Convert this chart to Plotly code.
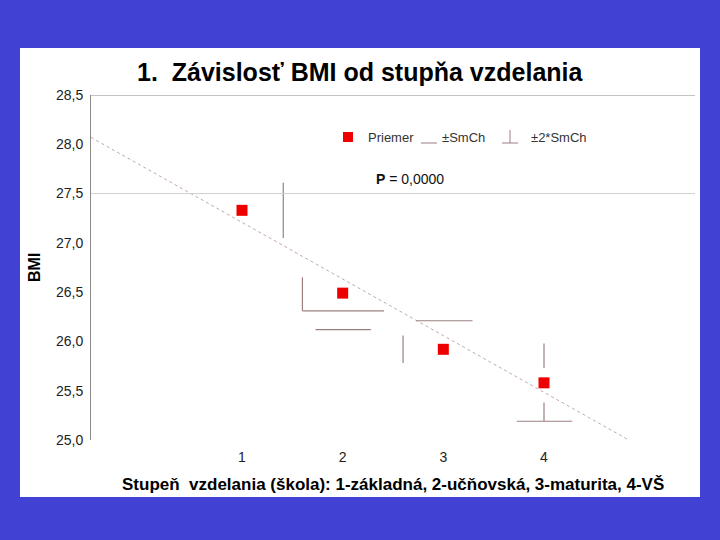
import plotly.graph_objects as go

# ---- data ----
stupen = [1, 2, 3, 4]
bmi_priemer = [27.33, 26.49, 25.92, 25.58]
x_ticks = [1, 2, 3, 4]
x_tick_text = ["1", "2", "3", "4"]
y_ticks = [25.0, 25.5, 26.0, 26.5, 27.0, 27.5, 28.0, 28.5]

# regression line end points
reg_x = [-0.5, 4.86]
reg_y = [28.07, 24.99]

# error-bar segments (as drawn in the original)
err_x0 = [1.41, 1.60, 1.60, 1.73, 2.73, 2.60, 4.00, 4.00, 3.73]
err_x1 = [1.41, 1.60, 2.41, 2.28, 3.29, 2.60, 4.00, 4.00, 4.28]
err_y0 = [27.61, 26.65, 26.31, 26.12, 26.21, 26.06, 25.98, 25.38, 25.19]
err_y1 = [27.05, 26.31, 26.31, 26.12, 26.21, 25.78, 25.73, 25.19, 25.19]

title_text = "1.  Závislosť BMI od stupňa vzdelania"
x_title = "Stupeň  vzdelania (škola): 1-základná, 2-učňovská, 3-maturita, 4-VŠ"
y_title = "BMI"
p_text = "<b>P</b> = 0,0000"

# ---- layout geometry ----
W, H = 720, 540
L, R, T, B = 91, 695, 95, 440
FONT = "Liberation Sans, Arial, sans-serif"


def px(x):
    return (x - L) / (R - L)


def py(y):
    return (B - y) / (B - T)


seg_x, seg_y = [], []
for a, b, c, d in zip(err_x0, err_x1, err_y0, err_y1):
    seg_x += [a, b, None]
    seg_y += [c, d, None]

fig = go.Figure()
fig.add_trace(go.Scatter(x=reg_x, y=reg_y, mode="lines",
                         line=dict(color="#c2a8a8", width=1, dash="dot"),
                         hoverinfo="skip", showlegend=False))
fig.add_trace(go.Scatter(x=seg_x, y=seg_y, mode="lines",
                         line=dict(color="#9c8080", width=1.2),
                         hoverinfo="skip", showlegend=False))
fig.add_trace(go.Scatter(x=stupen, y=bmi_priemer, mode="markers",
                         marker=dict(symbol="square", size=11, color="#ee0000"),
                         showlegend=False))

shapes = [
    # white panel
    dict(type="rect", xref="paper", yref="paper", x0=px(20), x1=px(700), y0=py(497), y1=py(48),
         fillcolor="white", line=dict(width=0), layer="below"),
    # top frame line and gridline at 27.5
    dict(type="line", xref="paper", yref="y", x0=0, x1=1, y0=28.5, y1=28.5,
         line=dict(color="#8a8a8a", width=1)),
    dict(type="line", xref="paper", yref="y", x0=0, x1=1, y0=27.5, y1=27.5,
         line=dict(color="#cfcfcf", width=1)),
    # legend symbols
    dict(type="rect", xref="paper", yref="paper", x0=px(343), x1=px(353), y0=py(142), y1=py(132),
         fillcolor="#ee0000", line=dict(width=0)),
    dict(type="line", xref="paper", yref="paper", x0=px(421), x1=px(437), y0=py(143), y1=py(143),
         line=dict(color="#9c8080", width=1)),
    dict(type="line", xref="paper", yref="paper", x0=px(502), x1=px(518), y0=py(143), y1=py(143),
         line=dict(color="#9c8080", width=1)),
    dict(type="line", xref="paper", yref="paper", x0=px(510), x1=px(510), y0=py(143), y1=py(130),
         line=dict(color="#9c8080", width=1)),
]

ann = [
    dict(text="<b>" + title_text + "</b>", x=px(360), y=py(72), xref="paper", yref="paper",
         showarrow=False, xanchor="center", yanchor="middle",
         font=dict(family=FONT, size=25, color="black")),
    dict(text="<b>" + x_title + "</b>", x=0.5, y=py(484), xref="paper", yref="paper",
         showarrow=False, xanchor="center", yanchor="middle",
         font=dict(family=FONT, size=17, color="black")),
    dict(text="<b>" + y_title + "</b>", x=px(34), y=py(268), xref="paper", yref="paper",
         showarrow=False, xanchor="center", yanchor="middle", textangle=-90,
         font=dict(family=FONT, size=16, color="black")),
    dict(text="Priemer", x=px(366), y=py(137), xref="paper", yref="paper",
         showarrow=False, xanchor="left", yanchor="middle",
         font=dict(family=FONT, size=13, color="#333333")),
    dict(text="±SmCh", x=px(440), y=py(137), xref="paper", yref="paper",
         showarrow=False, xanchor="left", yanchor="middle",
         font=dict(family=FONT, size=13, color="#333333")),
    dict(text="±2*SmCh", x=px(529), y=py(137), xref="paper", yref="paper",
         showarrow=False, xanchor="left", yanchor="middle",
         font=dict(family=FONT, size=13, color="#333333")),
    dict(text=p_text, x=px(374), y=py(179), xref="paper", yref="paper",
         showarrow=False, xanchor="left", yanchor="middle",
         font=dict(family=FONT, size=14, color="#111111")),
]

fig.update_layout(
    width=W, height=H,
    margin=dict(l=L, r=W - R, t=T, b=H - B, pad=0),
    paper_bgcolor="#4141d3",
    plot_bgcolor="white",
    separators=", ",
    shapes=shapes,
    annotations=ann,
    showlegend=False,
    font=dict(family=FONT, size=14, color="#222222"),
)
fig.update_xaxes(range=[-0.5, 5.5], tickvals=x_ticks, ticktext=x_tick_text,
                 showgrid=False, zeroline=False, showline=False, ticks="",
                 ticklabelstandoff=7, tickfont=dict(size=14, color="#222222"))
fig.update_yaxes(range=[25.0, 28.5], tickvals=y_ticks, tickformat=".1f",
                 showgrid=False, zeroline=False, showline=True, linecolor="#8a8a8a",
                 linewidth=1, ticks="", ticklabelstandoff=4,
                 tickfont=dict(size=14, color="#222222"))

fig.write_html("out.html",
               config={"displayModeBar": False},
               post_script="document.body.style.margin='0';document.body.style.background='#4141d3';")
